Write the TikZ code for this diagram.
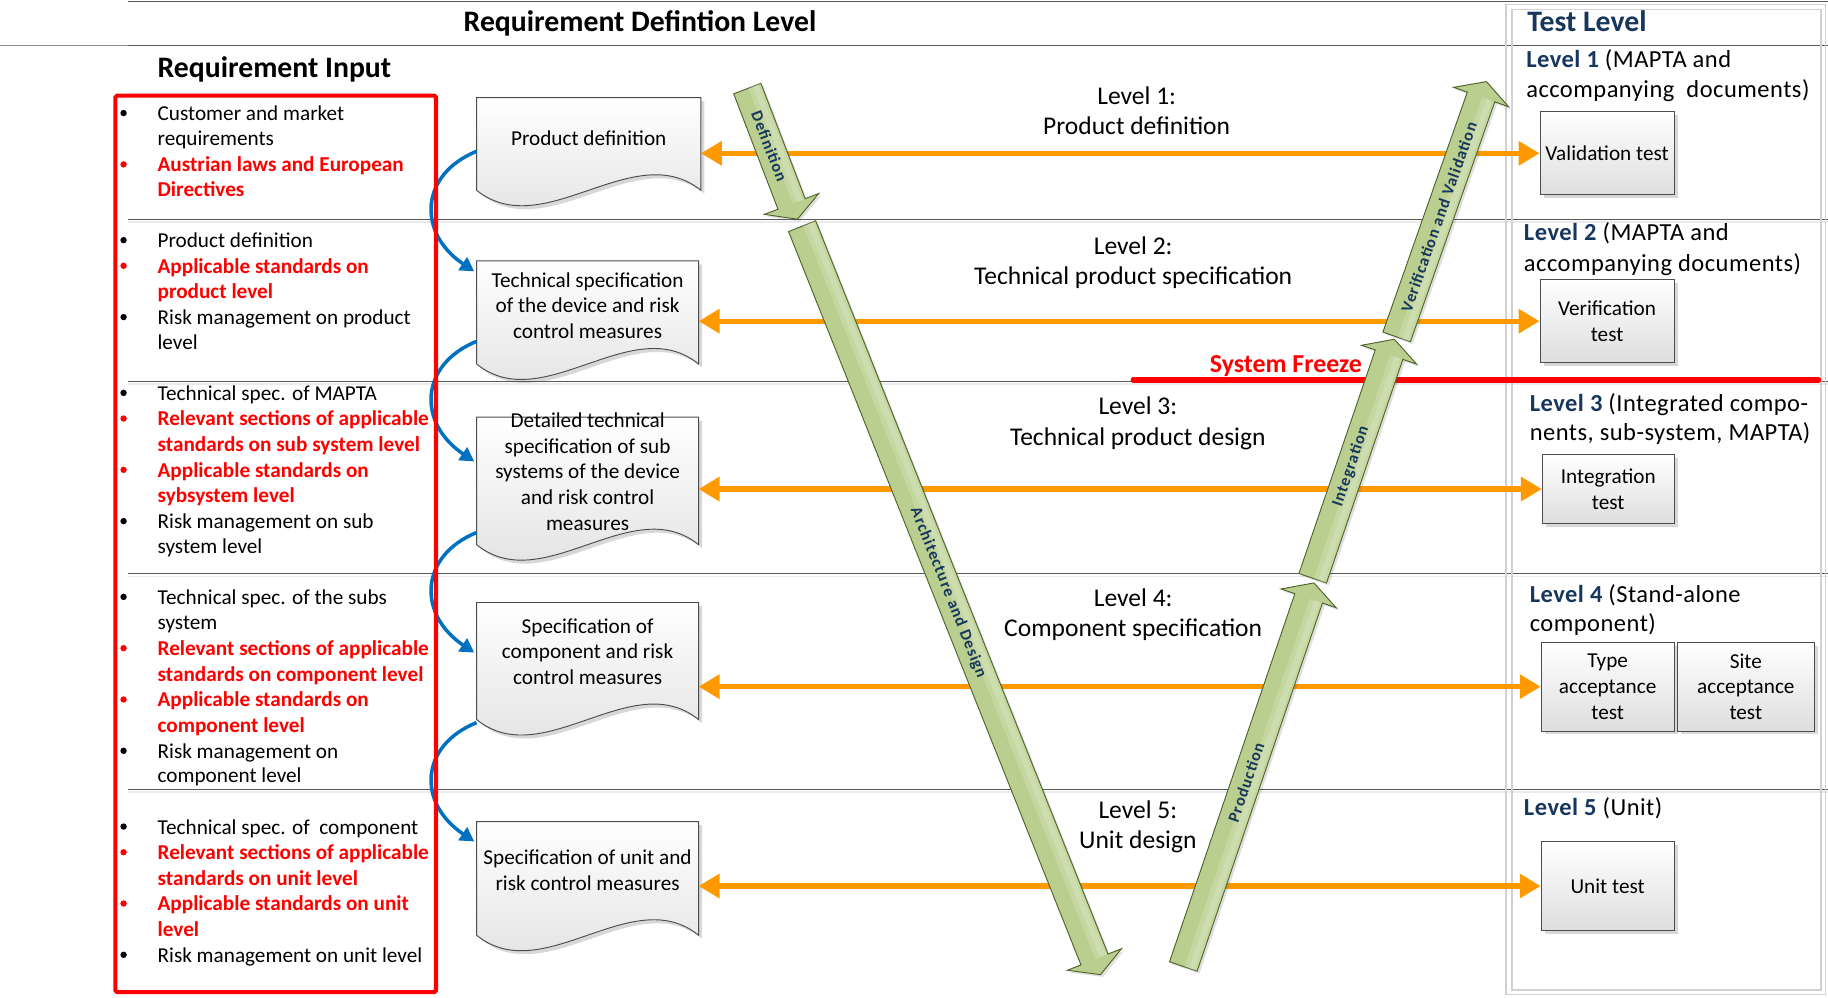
\documentclass[tikz,border=0pt]{standalone}
\usepackage{fontspec}
\setmainfont{Carlito}
\newfontfamily\widefont[LetterSpace=2]{Carlito}
\newfontfamily\arrowfont[LetterSpace=6]{Carlito}
\usetikzlibrary{arrows.meta,calc,shadows}

\definecolor{navy}{RGB}{23,54,93}
\definecolor{vorange}{RGB}{255,153,0}
\definecolor{vblue}{RGB}{0,112,192}
\definecolor{vgreen}{RGB}{186,207,143}
\definecolor{vgreenline}{RGB}{79,98,40}
\definecolor{sepgray}{RGB}{89,89,89}

\tikzset{
  sepline/.style={draw=sepgray, line width=1.1pt},
  colframe/.style={draw=black!18, line width=1.3pt},
  heading/.style={font=\bfseries\fontsize{25.5}{30}\selectfont, inner sep=0pt, anchor=mid, yshift=-5pt},
  softshadow/.style={drop shadow={shadow xshift=3pt, shadow yshift=-3pt, opacity=0.22, fill=black!70}},
  docbody/.style={draw=black!70, line width=0.8pt, top color=white, bottom color=black!13, softshadow},
  doctext/.style={font=\fontsize{18.2}{22}\selectfont, align=center, inner sep=0pt},
  testbox/.style={draw=black!70, line width=0.8pt, top color=white, bottom color=black!13, softshadow,
    inner sep=0pt, align=center, font=\fontsize{18.2}{22}\selectfont},
  testlabel/.style={anchor=mid west, inner sep=0pt, yshift=-4.3pt, font=\widefont\fontsize{21}{26}\selectfont},
  levellabel/.style={align=center, inner sep=0pt, font=\fontsize{21.9}{26}\selectfont},
  blkitem/.style={anchor=mid west, inner sep=0pt, yshift=-4pt, font=\fontsize{18.2}{22}\selectfont},
  reditem/.style={anchor=mid west, inner sep=0pt, yshift=-4pt, text=red, font=\bfseries\fontsize{18.2}{22}\selectfont},
  blkdot/.style={circle, fill=black, inner sep=0pt, minimum size=5.5pt},
  reddot/.style={circle, fill=red, inner sep=0pt, minimum size=5.5pt},
  orangearrow/.style={draw=vorange, line width=4.5pt,
    {Triangle[length=18pt,width=20pt]}-{Triangle[length=18pt,width=20pt]}},
  bluearrow/.style={draw=vblue, line width=3pt, -{Triangle[length=12pt,width=13pt]}},
  greenarrow/.style={fill=vgreen, draw=vgreenline, line width=0.8pt,
    drop shadow={shadow xshift=2pt, shadow yshift=-2pt, opacity=0.18, fill=black!70}},
  greenlight/.style={fill=white, opacity=0.17},
  arrowtext/.style={text=navy, inner sep=0pt, font=\arrowfont\bfseries\fontsize{14}{16}\selectfont},
  freezetext/.style={text=red, inner sep=0pt, yshift=-2pt, font=\bfseries\fontsize{22.2}{26}\selectfont},
}

% document shape with wavy lower edge: name, x-left, y-top, x-right, y-side, text shift, text
\newcommand\wavedoc[7]{%
  \node[inner sep=0pt, minimum width={(#4-#2)*1pt}, minimum height={(#5-#3)*1pt}] (#1) at ({(#2+#4)/2},{(#3+#5)/2}) {};
  \path[docbody] (#1.north west) -- (#1.north east) -- (#1.south east)
    .. controls ($(#1.south east)+({-0.3*(#4-#2)},-46)$) and ($(#1.south west)+({0.3*(#4-#2)},46)$) .. (#1.south west) -- cycle;
  \node[doctext] (#1-text) at ($(#1.center)+(0,#6)$) {#7};
}

% block arrow from tail (#1) to tip (#2), lit on side #4 (90 or -90), label #3
\newcommand\blockarrow[4]{%
  \coordinate (#2-h) at ($(#2)!14pt!(#1)$);
  \path[greenarrow] ($(#1)!12.5pt!90:(#2)$) -- ($(#2-h)!12.5pt!90:(#2)$) -- ($(#2-h)!25pt!90:(#2)$)
    -- (#2) -- ($(#2-h)!25pt!-90:(#2)$) -- ($(#2-h)!12.5pt!-90:(#2)$) -- ($(#1)!12.5pt!-90:(#2)$) -- cycle;
  \fill[greenlight] ($(#1)!1pt!#4:(#2)$) -- ($(#2-h)!1pt!#4:(#2)$) -- ($(#2-h)!12pt!#4:(#2)$) -- ($(#1)!12pt!#4:(#2)$) -- cycle;
  \fill[greenlight] ($(#1)!5pt!#4:(#2)$) -- ($(#2-h)!5pt!#4:(#2)$) -- ($(#2-h)!10pt!#4:(#2)$) -- ($(#1)!10pt!#4:(#2)$) -- cycle;
  \path (#1) -- (#2-h) node[midway, sloped, arrowtext] (#2-label) {#3};
}

% bullet item and continuation line
\newcommand\bitem[4]{\node[#1dot] (#2b) at (106,#3) {}; \node[#1item] (#2) at (135,#3) {#4};}
\newcommand\citem[4]{\node[#1item] (#2) at (135,#3) {#4};}

\begin{document}
\begin{tikzpicture}[x=1pt,y=-1pt]
\useasboundingbox (0,0) rectangle (1568,856);

% frame lines of the header
\coordinate (topL) at (110,1);
\coordinate (topR) at (1568,1);
\draw[sepline] (topL) -- (topR);
\coordinate (hdL) at (0,39);
\coordinate (hdM) at (110,39);
\coordinate (hdR) at (1568,39);
\draw[sepline, draw=black!45] (hdL) -- (hdM);
\draw[sepline] (hdM) -- (hdR);

% separators between the five levels
\foreach \yy [count=\k] in {188,327,492,677} {
  \coordinate (sepL\k) at (110,\yy);
  \coordinate (sepR\k) at (1568,\yy);
  \draw[black!8, line width=1.6pt] ($(sepL\k)+(0,2.5)$) -- ($(sepR\k)+(0,2.5)$);
  \draw[sepline] (sepL\k) -- (sepR\k);
}

% test level column
\draw[colframe] (1292,4) rectangle (1566,853);
\draw[colframe] (1297,8) rectangle (1562,849);

% headings
\node[heading] (hReq) at (549,20) {Requirement Defintion Level};
\node[heading, anchor=mid west, text=navy] (hTest) at (1310,20) {Test Level};
\node[heading, anchor=mid west] (hIn) at (135,59) {Requirement Input};

% requirement documents
\wavedoc{d1}{409}{84}{601}{163}{-5}{Product definition}
\wavedoc{d2}{409}{224}{599}{312}{-6}{Technical specification\\of the device and risk\\control measures}
\wavedoc{d3}{409}{358}{599}{467}{-8}{Detailed technical\\specification of sub\\systems of the device\\and risk control\\measures}
\wavedoc{d4}{409}{517}{599}{617}{-8}{Specification of\\component and risk\\control measures}
\wavedoc{d5}{409}{705}{599}{802}{-7}{Specification of unit and\\risk control measures}

% tests
\node[testbox, minimum width=115pt, minimum height=71pt] (t1) at (1378.5,131.5) {Validation test};
\node[testbox, minimum width=115pt, minimum height=71pt] (t2) at (1378.5,275.5) {Verification\\test};
\node[testbox, minimum width=113pt, minimum height=59pt] (t3) at (1379.5,419.5) {Integration\\test};
\node[testbox, minimum width=114pt, minimum height=76pt] (t4) at (1379,589) {Type\\acceptance\\test};
\node[testbox, minimum width=117pt, minimum height=76pt] (t4s) at (1497.5,589) {Site\\acceptance\\test};
\node[testbox, minimum width=114pt, minimum height=76pt] (t5) at (1379,760) {Unit test};

% level titles in the middle
\node[levellabel] (lv1) at (975,95) {Level 1:\\Product definition};
\node[levellabel] (lv2) at (972,225.5) {Level 2:\\Technical product specification};
\node[levellabel] (lv3) at (976,363) {Level 3:\\Technical product design};
\node[levellabel] (lv4) at (972,527.5) {Level 4:\\Component specification};
\node[levellabel] (lv5) at (976,709) {Level 5:\\Unit design};

% test level descriptions
\node[testlabel] (tl1a) at (1309,51) {\textcolor{navy}{\bfseries Level 1} (MAPTA and};
\node[testlabel] (tl1b) at (1309,77) {accompanying\ \ documents)};
\node[testlabel] (tl2a) at (1307,200) {\textcolor{navy}{\bfseries Level 2} (MAPTA and};
\node[testlabel] (tl2b) at (1307,226) {accompanying documents)};
\node[testlabel] (tl3a) at (1312,346) {\textcolor{navy}{\bfseries Level 3} (Integrated compo-};
\node[testlabel] (tl3b) at (1312,371) {nents, sub-system, MAPTA)};
\node[testlabel] (tl4a) at (1312,510) {\textcolor{navy}{\bfseries Level 4} (Stand-alone};
\node[testlabel] (tl4b) at (1312,535) {component)};
\node[testlabel] (tl5a) at (1307,693) {\textcolor{navy}{\bfseries Level 5} (Unit)};

% links between requirement documents and tests
\draw[orangearrow] (d1.east |- t1.west) -- (t1.west);
\draw[orangearrow] (d2.east |- t2.west) -- (t2.west);
\draw[orangearrow] (d3.east |- t3.west) -- (t3.west);
\draw[orangearrow] (d4.east |- t4.west) -- (t4.west);
\draw[orangearrow] (d5.east |- t5.west) -- (t5.west);

% system freeze
\coordinate (fzL) at (972,326);
\coordinate (fzR) at (1560,326);
\draw[red, line width=4.5pt, line cap=round] (fzL) -- (fzR);
\node[freezetext] (fzT) at (1103,312) {System Freeze};

% V-model block arrows
\coordinate (defA) at (641,76);    \coordinate (defB) at (684,188);
\coordinate (archA) at (688,194);  \coordinate (archB) at (944,836);
\coordinate (prodA) at (1015,829); \coordinate (prodB) at (1127,500);
\coordinate (intA) at (1126,496);  \coordinate (intB) at (1196,291);
\coordinate (vvA) at (1198,289);   \coordinate (vvB) at (1275,70);
\blockarrow{defA}{defB}{Definition}{90}
\blockarrow{archA}{archB}{Architecture and Design}{90}
\blockarrow{prodA}{prodB}{Production}{-90}
\blockarrow{intA}{intB}{Integration}{-90}
\blockarrow{vvA}{vvB}{Verification and Validation}{-90}

% refinement from one document to the next
\draw[bluearrow] ($(d1.north west)+(0,46)$) .. controls +(-49,20) and +(-49,-33) .. ($(d2.north west)+(-2,9)$);
\draw[bluearrow] ($(d2.north west)+(0,69)$) .. controls +(-49,20) and +(-49,-33) .. ($(d3.north west)+(-2,38)$);
\draw[bluearrow] ($(d3.north west)+(0,99)$) .. controls +(-49,20) and +(-49,-33) .. ($(d4.north west)+(-2,43)$);
\draw[bluearrow] ($(d4.north west)+(0,103)$) .. controls +(-49,20) and +(-49,-33) .. ($(d5.north west)+(-2,17)$);

% requirement input box
\node[draw=red, line width=3.5pt, rounded corners=1.5pt, minimum width=275pt, minimum height=769pt, inner sep=0pt] (inbox) at (236.5,466.5) {};

% requirement input lists
\bitem{blk}{r1}{97}{Customer and market}
\citem{blk}{r2}{118}{requirements}
\bitem{red}{r3}{141}{Austrian laws and European}
\citem{red}{r4}{162}{Directives}

\bitem{blk}{r5}{206}{Product definition}
\bitem{red}{r6}{228}{Applicable standards on}
\citem{red}{r7}{250}{product level}
\bitem{blk}{r8}{272}{Risk management on product}
\citem{blk}{r9}{293}{level}

\bitem{blk}{r10}{337}{Technical spec. of MAPTA}
\bitem{red}{r11}{359}{Relevant sections of applicable}
\citem{red}{r12}{381}{standards on sub system level}
\bitem{red}{r13}{403}{Applicable standards on}
\citem{red}{r14}{425}{sybsystem level}
\bitem{blk}{r15}{447}{Risk management on sub}
\citem{blk}{r16}{468}{system level}

\bitem{blk}{r17}{512}{Technical spec. of the subs}
\citem{blk}{r18}{534}{system}
\bitem{red}{r19}{556}{Relevant sections of applicable}
\citem{red}{r20}{578}{standards on component level}
\bitem{red}{r21}{600}{Applicable standards on}
\citem{red}{r22}{622}{component level}
\bitem{blk}{r23}{644}{Risk management on}
\citem{blk}{r24}{665}{component level}

\bitem{blk}{r25}{709}{Technical spec. of\ \ component}
\bitem{red}{r26}{731}{Relevant sections of applicable}
\citem{red}{r27}{753}{standards on unit level}
\bitem{red}{r28}{775}{Applicable standards on unit}
\citem{red}{r29}{797}{level}
\bitem{blk}{r30}{819}{Risk management on unit level}
\end{tikzpicture}
\end{document}
